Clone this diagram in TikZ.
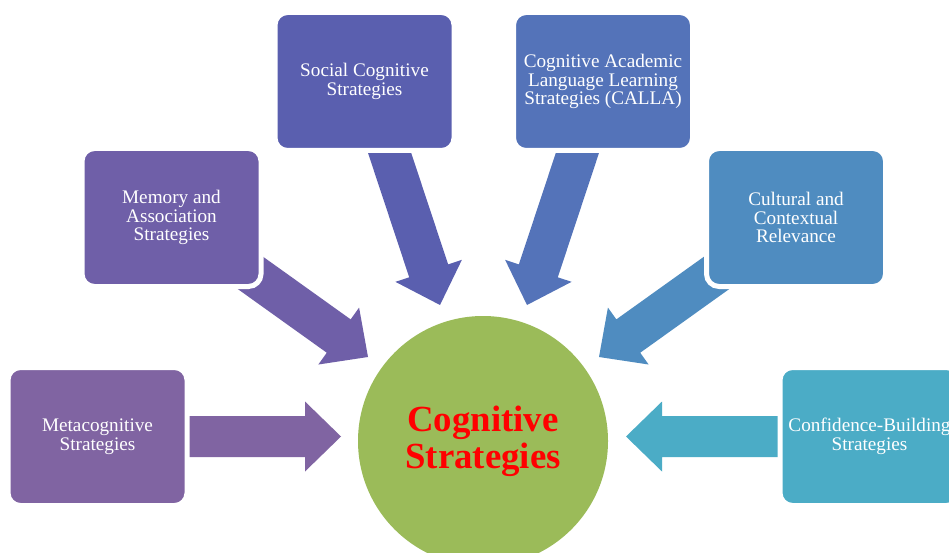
\documentclass[tikz,border=0pt]{standalone}
\usepackage{fontspec}
\setmainfont{Liberation Serif}
\usetikzlibrary{calc}
\definecolor{cMeta}{RGB}{128,100,162}
\definecolor{cMem}{RGB}{111,95,168}
\definecolor{cSoc}{RGB}{90,95,175}
\definecolor{cCalla}{RGB}{84,115,185}
\definecolor{cCult}{RGB}{79,140,192}
\definecolor{cConf}{RGB}{75,172,198}
\definecolor{cGreen}{RGB}{155,187,89}
\tikzset{
  box/.style={rectangle, rounded corners=12.5pt, minimum width=179pt, minimum height=138pt,
    inner sep=0pt, align=center, text=white, draw=white, line width=5pt,
    font=\fontsize{19.2}{18.7}\selectfont},
  hub/.style={circle, fill=cGreen, minimum size=250pt, inner sep=0pt, align=center,
    text=red, font=\bfseries\fontsize{36.8}{37}\selectfont}
}
\newcommand\blockarrow[3]{%
  \coordinate (#2-h) at ($(#2)!36pt!(#1)$);
  \fill[#3] ($(#1)!20.5pt!90:(#2)$) -- ($(#2-h)!20.5pt!-90:(#1)$) -- ($(#2-h)!35pt!-90:(#1)$)
    -- (#2) -- ($(#2-h)!35pt!90:(#1)$) -- ($(#2-h)!20.5pt!90:(#1)$) -- ($(#1)!20.5pt!-90:(#2)$) -- cycle;
}
\begin{document}
\begin{tikzpicture}[x=1pt,y=-1pt]
\useasboundingbox (0,0) rectangle (949,553);
\fill[white] (0,0) rectangle (949,553);
\clip (0,0) rectangle (949,553);
% arrow end points
\coordinate (metaS) at (175,436.5);  \coordinate (metaT) at (341,436.5);
\coordinate (confS) at (792,436.5);  \coordinate (confT) at (626,436.5);
\coordinate (memS) at (238,264);     \coordinate (memT) at (368,357);
\coordinate (cultS) at (729,264);    \coordinate (cultT) at (599,357);
\coordinate (socS) at (382,130);     \coordinate (socT) at (440,305);
\coordinate (calS) at (585,130);     \coordinate (calT) at (527,305);
\blockarrow{metaS}{metaT}{cMeta}
\blockarrow{confS}{confT}{cConf}
\blockarrow{memS}{memT}{cMem}
\blockarrow{cultS}{cultT}{cCult}
\blockarrow{socS}{socT}{cSoc}
\blockarrow{calS}{calT}{cCalla}
% boxes
\node[box, fill=cMeta] (meta) at (97.5,436.5) {Metacognitive\\Strategies};
\node[box, fill=cMem] (mem) at (171.5,217.5) {Memory and\\Association\\Strategies};
\node[box, fill=cSoc] (soc) at (364.5,81.5) {Social Cognitive\\Strategies};
\node[box, fill=cCalla] (calla) at (603,81.5) {Cognitive Academic\\Language Learning\\Strategies (CALLA)};
\node[box, fill=cCult] (cult) at (796,217.5) {Cultural and\\Contextual\\Relevance};
\node[box, fill=cConf] (conf) at (869.5,436.5) {Confidence-Building\\Strategies};
% hub
\node[hub] (hub) at (483,441) {Cognitive\\Strategies};
\end{tikzpicture}
\end{document}
